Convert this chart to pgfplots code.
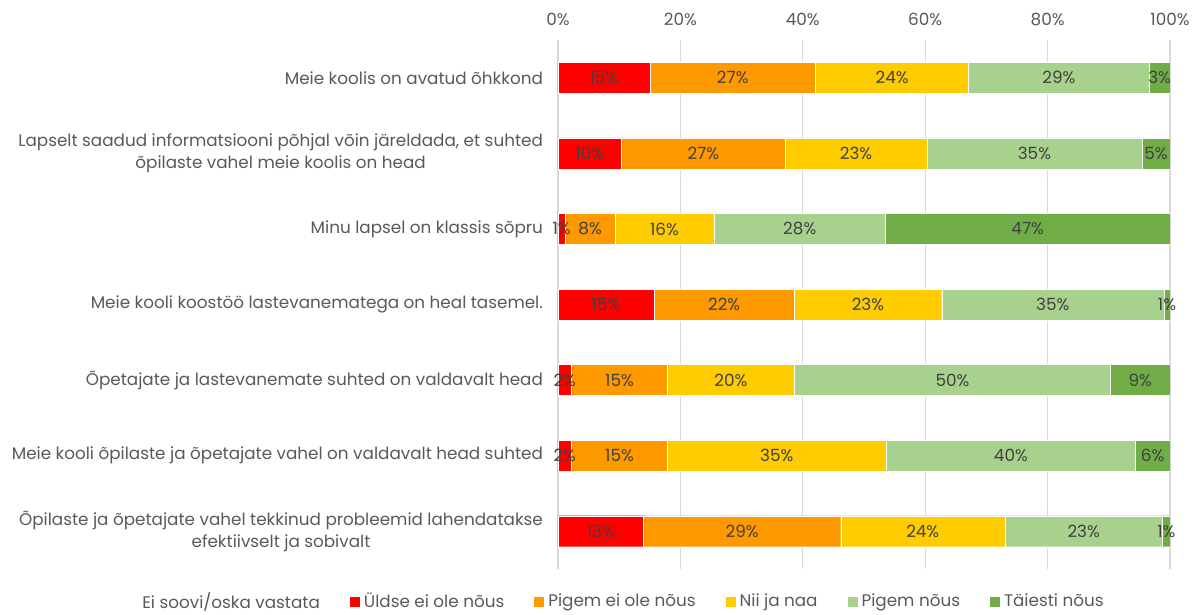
\documentclass[border=0pt]{standalone}
\usepackage{pgfplots}
\pgfplotsset{compat=1.18}
\usepackage{fontspec}
\setmainfont{Poppins}
\definecolor{cA}{HTML}{FF0000}
\definecolor{cB}{HTML}{FF9900}
\definecolor{cC}{HTML}{FFCC00}
\definecolor{cD}{HTML}{A9D18E}
\definecolor{cE}{HTML}{70AD47}
\definecolor{txtgray}{HTML}{595959}
\definecolor{lblgray}{HTML}{404040}
\definecolor{gridgray}{HTML}{D9D9D9}
\begin{document}
\begin{tikzpicture}[x=1pt,y=1pt]
\path[use as bounding box] (0,0) rectangle (600,307.5);
\begin{axis}[
  at={(279pt,23pt)}, anchor=south west,
  scale only axis, width=306pt, height=264.5pt,
  xbar stacked, bar width=15.5pt,
  xmin=0, xmax=100, ymin=-0.5, ymax=6.5, y dir=reverse,
  /pgf/number format/assume math mode=true,
  ytick={0,...,6},
  yticklabels={{Meie koolis on avatud õhkkond},
    {Lapselt saadud informatsiooni põhjal võin järeldada, et suhted\\õpilaste vahel meie koolis on head},
    {Minu lapsel on klassis sõpru},
    {Meie kooli koostöö lastevanematega on heal tasemel.},
    {Õpetajate ja lastevanemate suhted on valdavalt head},
    {Meie kooli õpilaste ja õpetajate vahel on valdavalt head suhted},
    {Õpilaste ja õpetajate vahel tekkinud probleemid lahendatakse\\efektiivselt ja sobivalt}},
  yticklabel style={align=center, font=\fontsize{8.4}{11}\selectfont, text=txtgray, xshift=-4pt},
  xtick={0,20,...,100},
  xticklabel={\pgfmathprintnumber{\tick}\%},
  xticklabel pos=upper,
  xticklabel style={font=\fontsize{8.4}{10}\selectfont, text=txtgray, yshift=3.5pt},
  axis line style={draw=none}, major tick style={draw=none},
  xmajorgrids, grid style={draw=gridgray, line width=0.6pt},
  legend image code/.code={\draw[#1, draw=none] (0pt,-2.5pt) rectangle (5pt,2.5pt);},
  legend style={draw=none, fill=none, legend columns=6, at={(0.098,-0.0624)}, anchor=center,
    font=\fontsize{8.4}{10}\selectfont, text=txtgray,
    /tikz/every even column/.append style={column sep=13pt}},
  legend cell align=left,
]
\addlegendimage{fill=none, draw=none}
\addlegendentry{Ei soovi/oska vastata}
\addplot[fill=cA, draw=white, line width=0.2pt] coordinates {(15.0,0) (10.4,1) (1.2,2) (15.7,3) (2.2,4) (2.2,5) (14.0,6)};
\addlegendentry{Üldse ei ole nõus}
\addplot[fill=cB, draw=white, line width=0.2pt] coordinates {(27.1,0) (26.7,1) (8.1,2) (22.9,3) (15.7,4) (15.7,5) (32.2,6)};
\addlegendentry{Pigem ei ole nõus}
\addplot[fill=cC, draw=white, line width=0.2pt] coordinates {(25.0,0) (23.2,1) (16.2,2) (24.1,3) (20.7,4) (35.7,5) (26.8,6)};
\addlegendentry{Nii ja naa}
\addplot[fill=cD, draw=white, line width=0.2pt] coordinates {(29.5,0) (35.1,1) (28.0,2) (36.3,3) (51.7,4) (40.7,5) (25.8,6)};
\addlegendentry{Pigem nõus}
\addplot[fill=cE, draw=white, line width=0.2pt] coordinates {(3.4,0) (4.6,1) (46.5,2) (1.0,3) (9.7,4) (5.7,5) (1.2,6)};
\addlegendentry{Täiesti nõus}
\end{axis}
\begin{axis}[
  at={(279pt,23pt)}, anchor=south west,
  scale only axis, width=306pt, height=264.5pt,
  xmin=0, xmax=100, ymin=-0.5, ymax=6.5, y dir=reverse,
  hide axis, clip=false,
]
\addplot[only marks, mark=none, point meta=explicit,
  nodes near coords={\pgfmathprintnumber[fixed,precision=0,assume math mode=true]{\pgfplotspointmeta}\%},
  every node near coord/.style={anchor=center, inner sep=0pt, font=\fontsize{8.4}{10}\selectfont, text=lblgray}]
  table[meta=m] {
x y m
7.5 0 15
28.55 0 27
54.6 0 24
81.85 0 29
98.3 0 3
5.2 1 10
23.75 1 27
48.7 1 23
77.85 1 35
97.7 1 5
0.6 2 1
5.25 2 8
17.4 2 16
39.5 2 28
76.75 2 47
7.85 3 15
27.15 3 22
50.65 3 23
80.85 3 35
99.5 3 1
1.1 4 2
10.05 4 15
28.25 4 20
64.45 4 50
95.15 4 9
1.1 5 2
10.05 5 15
35.75 5 35
74.0 5 40
97.15 5 6
7.0 6 13
30.1 6 29
59.6 6 24
85.9 6 23
99.4 6 1
};
\end{axis}
\end{tikzpicture}
\end{document}
